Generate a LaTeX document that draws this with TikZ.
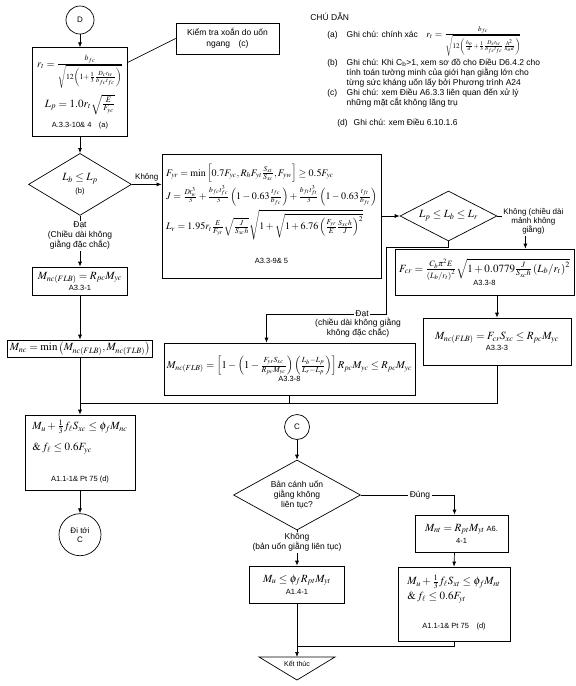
\documentclass[tikz,border=0pt]{standalone}
\usepackage{amsmath,amssymb}
\usepackage{mathptmx}
\usepackage[no-math]{fontspec}
\setmainfont{Liberation Sans}
\usetikzlibrary{arrows.meta,shapes,positioning,calc}

\newcommand{\reftxt}[1]{{\fontsize{7.5}{9}\selectfont #1}}

\begin{document}
\begin{tikzpicture}[
  x=1pt,y=-1pt,line width=0.7pt,
  node distance=12pt and 10pt,
  box/.style={rectangle,draw,align=center,inner sep=2pt,font=\fontsize{11}{13}\selectfont},
  conn/.style={circle,draw,align=center,inner sep=0pt,font=\fontsize{8}{9}\selectfont},
  decision/.style={diamond,draw,align=center,inner sep=0pt,font=\fontsize{11}{12}\selectfont},
  lbl/.style={align=center,inner sep=1pt,font=\fontsize{8.5}{10}\selectfont},
  note/.style={align=left,anchor=base west,inner sep=0pt,font=\fontsize{8.5}{10}\selectfont},
  arrow/.style={-{Latex[length=5pt,width=4pt]}}
]
\useasboundingbox (0,0) rectangle (576,686);

\node[conn,minimum size=28pt] (D) at (80,20) {D};
\node[box,font=\fontsize{10.5}{12}\selectfont,minimum width=95pt,minimum height=89pt,below=13pt of D] (rt)
  {$r_t=\frac{b_{fc}}{\sqrt{12\left(1+\frac{1}{3}\frac{D_ct_w}{b_{fc}t_{fc}}\right)}}$\\[5pt]
   {\fontsize{11}{12}\selectfont$L_p=1.0r_t\sqrt{\frac{E}{F_{yc}}}$}\\[6pt]
   \reftxt{A.3.3-10\& 4\quad(a)}};
\node[box,font=\fontsize{8.5}{11}\selectfont,minimum width=103pt,minimum height=31pt] (kiem) at (227.5,38.5)
  {Kiểm tra xoắn do uốn\\ngang\quad(c)};

\node[note] (chudan) at (310,20) {CHÚ DẪN};
\node[note] (lega) at (327,37) {(a)\hspace{9pt}Ghi chú: chính xác\quad
  {\fontsize{9.5}{10}\selectfont$r_t=\frac{b_{fc}}{\sqrt{12\left(\frac{h_o}{d}+\frac{1}{3}\frac{D_ct_w}{b_{fc}t_{fc}}\frac{h^2}{h_od}\right)}}$}};
\node[note] (legbc) at (327,65) {\begin{tabular}[t]{@{}l@{\hspace{9pt}}l@{}}
  (b)&Ghi chú: Khi C\textsubscript{b}>1, xem sơ đồ cho Điều D6.4.2 cho\\
  &tính toán tường minh của giới hạn giằng lớn cho\\
  &từng sức kháng uốn lấy bởi Phương trình A24\\
  (c)&Ghi chú: xem Điều A6.3.3 liên quan đến xử lý\\
  &những mặt cắt không lăng trụ\end{tabular}};
\node[note] (legd) at (337,125) {(d)\hspace{6pt}Ghi chú: xem Điều 6.10.1.6};

\node[decision,aspect=1.66,minimum width=103pt,minimum height=62pt,below=16pt of rt] (dia1)
  {$L_b\le L_p$\\[1pt]\reftxt{(b)}};
\node[lbl,below=5pt of dia1] (dat1) {Đạt\\(Chiều dài không\\giằng đặc chắc)};
\node[box,minimum width=95pt,minimum height=28pt] (mnc1) at (80,281)
  {$M_{nc(FLB)}=R_{pc}M_{yc}$\\[-2pt]\reftxt{A3.3-1}};
\node[box,minimum width=145pt,minimum height=17pt,inner sep=1pt] (mncmin) at (80,348.5)
  {$M_{nc}=\min\left(M_{nc(FLB)},M_{nc(TLB)}\right)$};
\node[box,minimum width=110pt,minimum height=75pt] (mu1) at (80,452.5)
  {\begin{tabular}{@{}l@{}}$M_u+\frac{1}{3}f_\ell S_{xc}\le\phi_fM_{nc}$\\[8pt]
   $\&\,f_\ell\le0.6F_{yc}$\\[18pt]
   \multicolumn{1}{c}{\reftxt{A1.1-1\& Pt 75 (d)}}\end{tabular}};
\node[conn,minimum size=42pt,below=23pt of mu1] (goC) {Đi tới\\C};

\node[box,font=\fontsize{10}{12}\selectfont,minimum width=219pt,minimum height=124pt] (lr) at (271.5,216)
  {\begin{tabular}{@{}l@{}}
   $F_{yr}=\min\left[0.7F_{yc},R_hF_{yt}\frac{S_{xt}}{S_{xc}},F_{yw}\right]\geq0.5F_{yc}$\\[6pt]
   $J=\frac{Dt_w^3}{3}+\frac{b_{fc}t_{fc}^3}{3}\left(1-0.63\frac{t_{fc}}{b_{fc}}\right)+\frac{b_{ft}t_{ft}^3}{3}\left(1-0.63\frac{t_{ft}}{b_{ft}}\right)$\\[7pt]
   $L_r=1.95r_t\frac{E}{F_{yr}}\sqrt{\frac{J}{S_{xc}h}}\sqrt{1+\sqrt{1+6.76\left(\frac{F_{yr}}{E}\frac{S_{xc}h}{J}\right)^2}}$\\[22pt]
   \multicolumn{1}{c}{\reftxt{A3.3-9\& 5}}\end{tabular}};
\node[decision,aspect=1.9,minimum width=97pt,minimum height=50pt] (dia2) at (448.5,216)
  {$L_p\le L_b\le L_r$};
\node[lbl,anchor=north west,font=\fontsize{8}{8.5}\selectfont] (khong2) at (502,207)
  {Không (chiều dài\\mảnh không\\giằng)};
\node[box,minimum width=179pt,minimum height=46pt] (fcr) at (484.5,272)
  {$F_{cr}=\frac{C_b\pi^2E}{\left(L_b/r_t\right)^2}\sqrt{1+0.0779\frac{J}{S_{xc}h}\left(L_b/r_t\right)^2}$\\[-1pt]\reftxt{A3.3-8}};
\node[box,minimum width=148pt,minimum height=47pt] (mnc3) at (497,341.5)
  {$M_{nc(FLB)}=F_{cr}S_{xc}\le R_{pc}M_{yc}$\\[-2pt]\reftxt{A3.3-3}};
\node[box,font=\fontsize{10.5}{12}\selectfont,minimum width=251pt,minimum height=52pt] (mnc2) at (289.5,369)
  {$M_{nc(FLB)}=\left[1-\left(1-\frac{F_{yr}S_{xc}}{R_{pc}M_{yc}}\right)\left(\frac{L_b-L_p}{L_r-L_p}\right)\right]R_{pc}M_{yc}\le R_{pc}M_{yc}$\\[0pt]\reftxt{A3.3-8}};
\node[lbl] (dat2) at (362,314) {Đạt};
\node[lbl] (datnote) at (358,328) {(chiều dài không giằng\\không đặc chắc)};

\node[conn,minimum size=25pt] (C) at (297,427) {C};
\node[decision,aspect=1.8,minimum width=127pt,minimum height=70pt,font=\fontsize{8.5}{10}\selectfont] (dia3) at (297,495)
  {Bản cánh uốn\\giằng không\\liên tục?};
\node[lbl,below=2pt of dia3] (khong3) {Không\\(bản uốn giằng liên tục)};
\node[box,minimum width=95pt,minimum height=37pt] (mu2) at (297,584.5)
  {$M_u\le\phi_fR_{pt}M_{yt}$\\[-1pt]\reftxt{A1.4-1}};
\coordinate (endtop) at (297,657);
\draw (endtop) ++(-38,0) -- ++(76,0) -- (297,680) -- cycle;
\node[inner sep=0pt,font=\fontsize{7}{8}\selectfont] (end) at (297,664) {Kết thúc};
\node[lbl] (dung) at (420,495) {Đúng};
\node[box,minimum width=93pt,minimum height=37pt] (mnt) at (461.5,533.5)
  {$M_{nt}=R_{pt}M_{yt}$\,\reftxt{A6.}\\[-1pt]\reftxt{4-1}};
\node[box,minimum width=112pt,minimum height=74pt] (mu3) at (454,604)
  {\begin{tabular}{@{}l@{}}$M_u+\frac{1}{3}f_\ell S_{xt}\le\phi_fM_{nt}$\\[2pt]
   $\&\,f_\ell\le0.6F_{yt}$\\[16pt]
   \multicolumn{1}{c}{\reftxt{A1.1-1\& Pt 75\quad(d)}}\end{tabular}};

\draw[arrow] (D) -- (rt);
\draw ([yshift=-15pt]rt.north east) -- (kiem.west);
\draw[arrow] (rt) -- (dia1);
\draw (dia1.south) -- (dat1.north);
\draw[arrow] (dat1.south) -- (mnc1.north);
\draw[arrow] (mnc1) -- (mncmin);
\draw[arrow] (mncmin) -- (mu1);
\draw[arrow] (mu1) -- (goC);
\draw[arrow] (dia1.east) -- (dia1.east -| lr.west) node[midway,above,font=\fontsize{8}{9}\selectfont] (khong1) {Không};
\draw[arrow] (lr.east |- dia2.west) -- (dia2.west);
\draw (dia2.east) -- (dia2.east -| khong2.west);
\draw[arrow] ([xshift=-8pt]khong2.south) -- ([xshift=-8pt]khong2.south |- fcr.north);
\draw[arrow] (fcr.south -| mnc3) -- (mnc3.north);
\draw (dia2.south) -- ++(0,6) -| ([xshift=16pt]dat2.east |- dat2.east) -- (dat2.east);
\draw[arrow] (dat2.west) -| ([xshift=-23pt]mnc2.north);
\draw (mnc3.south) |- ($(mncmin.south)!0.8!(mu1.north)$);
\draw (mnc2.south) -- ++(0,8);
\draw[arrow] (C) -- (dia3);
\draw (dia3.south) -- (khong3.north);
\draw[arrow] (khong3.south) -- (mu2.north);
\draw[arrow] (mu2.south) -- (endtop);
\draw (dia3.east) -- (dung.west);
\draw[arrow] (dung.east) -| ([xshift=-7pt]mnt.north);
\draw[arrow] ([xshift=-7pt]mnt.south) -- (mu3.north);
\draw (mu3.south) |- ($(mu2.south)!0.8!(endtop)$);
\end{tikzpicture}
\end{document}
